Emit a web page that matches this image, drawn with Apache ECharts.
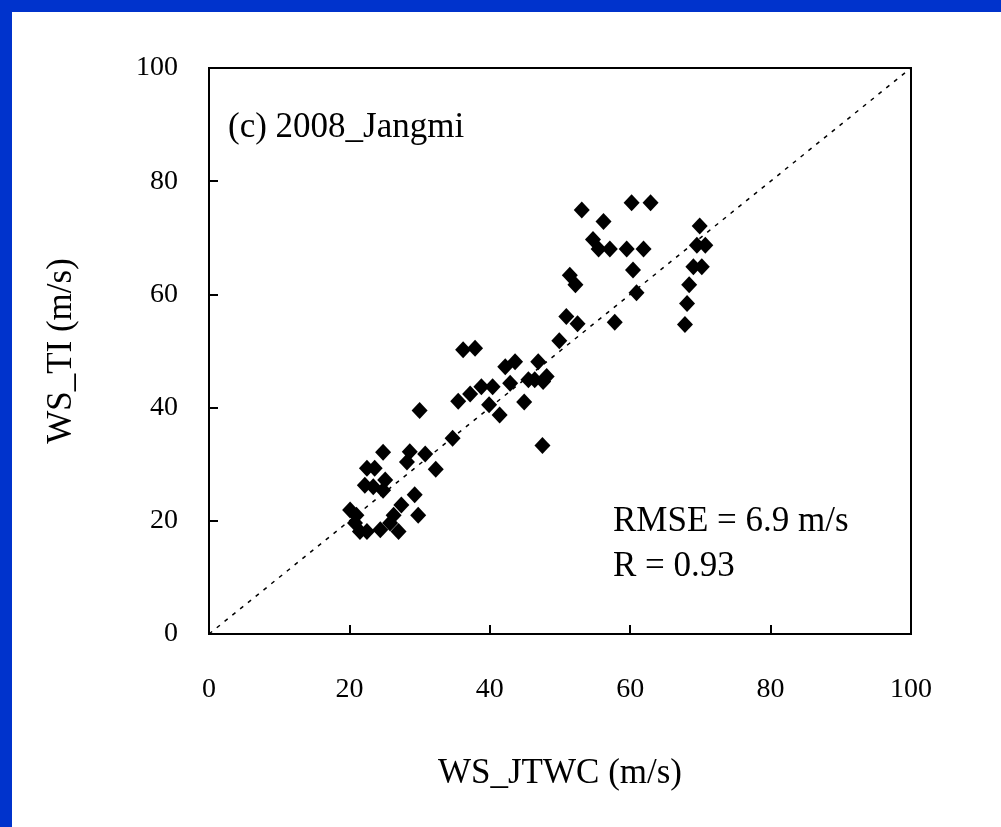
<!DOCTYPE html>
<html>
<head>
<meta charset="utf-8">
<script src="https://cdn.jsdelivr.net/npm/echarts@6/dist/echarts.min.js"></script>
<style>
html,body{margin:0;padding:0;background:#fff;}
#c{width:1001px;height:827px;}
</style>
</head>
<body>
<div id="c"></div>
<script>
// x = WS_JTWC (m/s), y = WS_TI (m/s)
const wsJTWC = [20.1,21.0,20.8,21.5,22.5,24.4,27.0,25.8,26.3,27.4,29.8,29.3,24.8,25.1,22.2,23.4,22.5,23.6,24.8,28.6,28.2,30.8,32.3,30.0,34.7,
  35.5,36.2,37.9,37.2,38.8,40.4,39.9,41.4,42.2,43.6,42.9,44.9,45.5,46.4,47.6,48.1,46.9,47.5,49.9,50.9,52.5,51.4,52.2,
  53.1,56.2,54.7,55.5,57.1,59.5,61.9,60.2,62.9,60.4,60.9,57.8,
  69.9,69.5,70.7,69.0,70.2,68.4,68.1,67.8];
const wsTI = [21.9,21.0,19.6,18.1,18.1,18.4,18.1,19.6,21.0,22.8,21.0,24.6,25.4,27.2,26.3,26.0,29.3,29.3,32.1,32.2,30.4,31.8,29.1,39.5,34.6,
  41.1,50.2,50.5,42.4,43.7,43.7,40.5,38.7,47.2,48.1,44.3,41.0,44.9,44.9,44.6,45.5,48.1,33.3,51.8,56.1,54.8,63.4,61.7,
  74.9,72.9,69.7,68.0,68.0,68.0,68.0,76.2,76.2,64.3,60.3,55.1,
  72.1,68.7,68.7,64.9,64.9,61.7,58.4,54.7];
const refLine = [[0,0],[100,100]];
const tickValues = [0,20,40,60,80,100];
const panelLabel = '(c) 2008_Jangmi';
const statsLines = ['RMSE = 6.9 m/s', 'R = 0.93'];
const xName = 'WS_JTWC (m/s)';
const yName = 'WS_TI (m/s)';

const points = wsJTWC.map((x,i)=>[x, wsTI[i]]);
const font = '"Liberation Serif", "Times New Roman", serif';
const chart = echarts.init(document.getElementById('c'), null, {renderer:'canvas'});
const axisCommon = {
  min: tickValues[0], max: tickValues[tickValues.length-1], interval: 20,
  axisLine:{show:true, lineStyle:{color:'#000', width:2}},
  axisTick:{show:true, inside:true, length:9, lineStyle:{color:'#000', width:2}},
  splitLine:{show:false},
  axisLabel:{color:'#000', fontFamily:font, fontSize:28},
  nameLocation:'middle',
  nameTextStyle:{color:'#000', fontFamily:font, fontSize:35}
};
chart.setOption({
  backgroundColor:'#fff',
  animation:false,
  grid:{left:209, right:90, top:68, bottom:193, show:true, borderColor:'#000', borderWidth:2, backgroundColor:'transparent'},
  xAxis:Object.assign({}, axisCommon, {type:'value', name:xName, nameGap:122,
    axisLabel:Object.assign({}, axisCommon.axisLabel, {margin:42})}),
  yAxis:Object.assign({}, axisCommon, {type:'value', name:yName, nameGap:130,
    axisLabel:Object.assign({}, axisCommon.axisLabel, {margin:31})}),
  graphic:[
    {type:'rect', shape:{x:0,y:0,width:1001,height:12}, style:{fill:'#0033cc'}, silent:true},
    {type:'rect', shape:{x:0,y:0,width:12,height:827}, style:{fill:'#0033cc'}, silent:true},
    {type:'text', left:228, top:110, style:{text:panelLabel, font:'35px '+font, fill:'#000'}},
    {type:'text', left:613, top:504, style:{text:statsLines[0], font:'35px '+font, fill:'#000'}},
    {type:'text', left:613, top:549, style:{text:statsLines[1], font:'35px '+font, fill:'#000'}}
  ],
  series:[
    {type:'line', data:refLine, symbol:'none', lineStyle:{color:'#000', width:1.5, type:[4,6]}, z:1},
    {type:'scatter', data:points, symbol:'diamond', symbolSize:[16,17], itemStyle:{color:'#000', opacity:1}, z:2}
  ]
});
</script>
</body>
</html>
